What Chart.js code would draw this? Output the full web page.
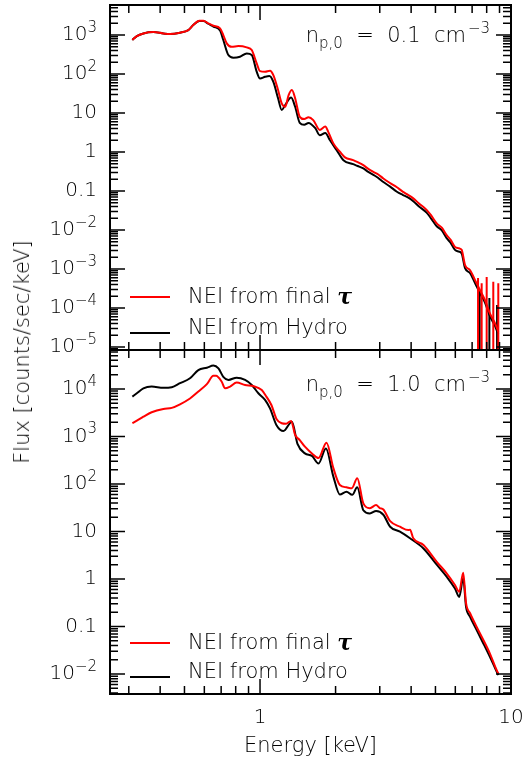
<!DOCTYPE html>
<html lang="en">
<head>
<meta charset="UTF-8">
<title>NEI spectra</title>
<script src="https://cdn.jsdelivr.net/npm/chart.js@4"></script>
<style>
    body{margin:0;background:#fff;width:522px;height:766px;position:relative;overflow:hidden;font-family:'DejaVu Sans',sans-serif}
    #topChart{position:absolute;left:0;top:0;width:522px;height:362px}
    #botChart{position:absolute;left:0;top:350px;width:522px;height:416px}
    .ylab{position:absolute;left:22px;top:352px;transform:translate(-50%,-50%) rotate(-90deg);white-space:nowrap;font-size:21px;font-weight:200;color:#000}
</style>
</head>
<body>
<canvas id="topChart" width="522" height="362"></canvas>
<canvas id="botChart" width="522" height="416"></canvas>
<div class="ylab">Flux [counts/sec/keV]</div>
<script>
// axis ticks ("^" marks the exponent part of a label)
const xTicks = [1, 10];
const xTickLabels = ['1', '10'];
const topYTicks = [1e-5, 1e-4, 1e-3, 1e-2, 0.1, 1, 10, 1e2, 1e3];
const topYLabels = ['10^−5', '10^−4', '10^−3', '10^−2', '0.1', '1', '10', '10^2', '10^3'];
const botYTicks = [1e-2, 0.1, 1, 10, 1e2, 1e3, 1e4];
const botYLabels = ['10^−2', '0.1', '1', '10', '10^2', '10^3', '10^4'];

// top panel, n = 0.1 cm^-3
const topRedE = [0.31,0.323,0.343,0.376,0.412,0.438,0.48,0.518,0.542,0.573,0.595,0.622,0.652,0.693,0.714,0.737,0.771,0.82,0.885,0.927,0.97,1.0,1.047,1.096,1.13,1.18,1.22,1.26,1.30,1.34,1.38,1.44,1.5,1.56,1.63,1.73,1.82,1.87,1.96,2.08,2.18,2.35,2.45,2.58,2.7,2.83,2.95,3.10,3.3,3.51,3.7,3.90,4.08,4.3,4.61,4.8,5.06,5.3,5.54,5.75,5.98,6.2,6.36,6.56,6.87,7.19,7.52,7.87,8.24,8.63,8.9];
const topRedF = [750,940,1100,1190,1100,1060,1150,1340,1800,2330,2330,2000,1730,1480,1000,612,500,522,483,412,188,119,115,122,94,39,17.8,14.5,29,39,24,8.0,7.0,7.8,6.6,3.7,4.5,3.3,1.67,1.02,0.73,0.62,0.55,0.46,0.37,0.31,0.27,0.21,0.16,0.125,0.097,0.079,0.065,0.048,0.033,0.024,0.0148,0.0115,0.0074,0.0056,0.0037,0.0034,0.0031,0.00126,0.00093,0.00052,0.00029,0.000161,0.000073,0.000041,0.000025];
const topBlackE = [0.31,0.323,0.343,0.376,0.412,0.438,0.48,0.518,0.542,0.573,0.595,0.622,0.652,0.693,0.714,0.748,0.783,0.832,0.885,0.927,0.97,1.0,1.047,1.09,1.13,1.18,1.22,1.26,1.33,1.38,1.44,1.5,1.56,1.66,1.73,1.82,1.90,2.02,2.15,2.35,2.45,2.58,2.7,2.83,2.95,3.10,3.3,3.51,3.7,3.90,4.08,4.3,4.61,4.8,5.06,5.3,5.54,5.75,5.98,6.2,6.36,6.56,6.87,7.19,7.52,7.87,8.24,8.63,8.9];
const topBlackF = [750,940,1100,1190,1100,1060,1150,1340,1800,2300,2300,1950,1650,1300,745,307,263,278,339,307,115,77,85,89,63,24,12,16,25,14.5,5.6,5.0,5.6,4.1,2.7,3.1,2.0,1.12,0.62,0.49,0.44,0.38,0.31,0.26,0.22,0.17,0.13,0.096,0.08,0.068,0.055,0.04,0.028,0.02,0.0125,0.0098,0.0062,0.0047,0.0031,0.0028,0.0025,0.00105,0.00078,0.00044,0.00024,0.00014,0.000062,0.000035,0.000021];
// error bars in the noisy tail (lower ends fall off the axis)
const topRedErrE = [7.39, 7.64, 8.0, 8.5, 8.9];
const topRedErrHi = [5.9e-4, 4.3e-4, 6.3e-4, 4.7e-4, 4.3e-4];
const topBlackErrE = [7.5, 8.2, 8.8];
const topBlackErrHi = [2.6e-4, 1.8e-4, 1.2e-4];
const errFloor = 1e-7;

// bottom panel, n = 1.0 cm^-3
const botRedE = [0.31,0.323,0.343,0.37,0.412,0.445,0.48,0.526,0.568,0.614,0.652,0.668,0.703,0.726,0.76,0.807,0.872,0.94,1.016,1.06,1.11,1.165,1.22,1.27,1.33,1.38,1.44,1.51,1.61,1.71,1.84,1.96,2.08,2.21,2.32,2.44,2.58,2.74,2.90,3.0,3.10,3.30,3.61,3.90,3.96,4.08,4.48,5.06,5.54,5.98,6.22,6.45,6.62,6.87,7.29,7.76,8.24,8.77,8.9];
const botRedF = [1900,2150,2600,3230,3800,4000,4750,6300,8800,12600,19000,19000,14300,10300,11200,13600,12100,11500,9500,6900,4600,2300,1900,1850,2120,1080,840,610,440,350,740,215,95,85,81,132,39,31,36,31,29,16.5,12.6,10.7,10.9,7.2,5.2,2.3,1.32,0.75,0.54,1.36,0.31,0.19,0.099,0.052,0.027,0.012,0.0103];
const botBlackE = [0.31,0.323,0.343,0.37,0.412,0.445,0.48,0.526,0.568,0.614,0.652,0.683,0.714,0.748,0.807,0.872,0.927,0.985,1.047,1.096,1.165,1.24,1.34,1.41,1.51,1.61,1.71,1.83,1.96,2.08,2.21,2.33,2.44,2.58,2.74,2.90,3.10,3.30,3.61,3.96,4.48,5.06,5.54,5.98,6.22,6.45,6.62,6.87,7.29,7.76,8.24,8.9];
const botBlackF = [6900,8100,10300,11200,10600,10900,13200,16800,25000,28000,31000,27000,18000,15500,17300,15500,12100,8100,5900,3900,1700,1300,2050,700,440,390,270,560,143,60,69,59,85,28,24,27,22.5,12.6,9.9,7.2,4.4,2.0,1.12,0.63,0.42,1.04,0.26,0.16,0.085,0.044,0.023,0.0095];

const pts = (E, F) => E.map((e, i) => ({x: e, y: F[i]}));
const errPts = (E, hi) => E.flatMap((e, i) => [{x: e, y: hi[i]}, {x: e, y: errFloor}, {x: e, y: null}]);

const FONT = '"DejaVu Sans", sans-serif';
const W = 200; // light weight, closer to the thin plot lettering

// frame, inward ticks, y labels with raised exponents, legend and density note
const panelPlugin = {
    id: 'panel',
    afterDatasetsDraw(chart, args, o) {
        const {ctx, chartArea: a, scales: {x, y}} = chart;
        ctx.save();
        ctx.strokeStyle = '#000';
        ctx.lineWidth = 1.5;
        ctx.beginPath();
        for (let d = Math.floor(Math.log10(y.min)); d <= Math.ceil(Math.log10(y.max)); d++) {
            for (let m = 1; m < 10; m++) {
                const v = m * Math.pow(10, d);
                if (v < y.min || v > y.max) continue;
                const py = y.getPixelForValue(v), len = m === 1 ? 15 : 8;
                ctx.moveTo(a.left, py); ctx.lineTo(a.left + len, py);
                ctx.moveTo(a.right, py); ctx.lineTo(a.right - len, py);
            }
        }
        for (let d = Math.floor(Math.log10(x.min)); d <= Math.ceil(Math.log10(x.max)); d++) {
            for (let m = 1; m < 10; m++) {
                const v = m * Math.pow(10, d);
                if (v <= x.min || v >= x.max) continue;
                const px = x.getPixelForValue(v), len = m === 1 ? 15 : 8;
                ctx.moveTo(px, a.top); ctx.lineTo(px, a.top + len);
                ctx.moveTo(px, a.bottom); ctx.lineTo(px, a.bottom - len);
            }
        }
        ctx.stroke();
        ctx.lineWidth = 2;
        ctx.strokeRect(a.left, a.top, a.right - a.left, a.bottom - a.top);

        // y tick labels
        const base = W + ' 20px ' + FONT, expo = W + ' 15px ' + FONT;
        ctx.fillStyle = '#000';
        ctx.textAlign = 'left';
        ctx.textBaseline = 'middle';
        y.ticks.forEach((t, i) => {
            const [b, e] = o.yLabels[i].split('^');
            const py = y.getPixelForValue(t.value);
            ctx.font = base; const wb = ctx.measureText(b).width;
            ctx.font = expo; const we = e ? ctx.measureText(e).width : 0;
            const lx = a.left - 13 - wb - we;
            ctx.font = base; ctx.fillText(b, lx, py);
            if (e) { ctx.font = expo; ctx.fillText(e, lx + wb, py - 7); }
        });

        // legend
        o.legend.forEach(it => {
            const ds = chart.data.datasets[it.ds];
            const ly = a.bottom - it.lineDy, ty = a.bottom - it.textDy;
            ctx.strokeStyle = ds.borderColor;
            ctx.lineWidth = 2;
            ctx.beginPath(); ctx.moveTo(a.left + 20, ly); ctx.lineTo(a.left + 60, ly); ctx.stroke();
            let txt = ds.label, tau = false;
            if (txt.endsWith('τ')) { txt = txt.slice(0, -1); tau = true; }
            ctx.font = W + ' 21px ' + FONT;
            ctx.fillText(txt, a.left + 78, ty);
            if (tau) {
                const w = ctx.measureText(txt).width;
                ctx.font = 'italic bold 22px "DejaVu Serif", serif';
                ctx.fillText('τ', a.left + 78 + w, ty);
            }
        });

        // density note
        const n = o.note;
        const big = W + ' 21px ' + FONT, small = W + ' 15px ' + FONT;
        ctx.font = big;
        const w1 = ctx.measureText(n.main).width, w3 = ctx.measureText(n.mid).width;
        ctx.font = small;
        const w2 = ctx.measureText(n.sub).width, w4 = ctx.measureText(n.sup).width;
        let nx = a.right - 21 - (w1 + w2 + w3 + w4 + 2);
        const by = a.top + n.baseDy;
        ctx.textBaseline = 'alphabetic';
        ctx.font = big; ctx.fillText(n.main, nx, by); nx += w1;
        ctx.font = small; ctx.fillText(n.sub, nx, by + 6); nx += w2;
        ctx.font = big; ctx.fillText(n.mid, nx, by); nx += w3 + 2;
        ctx.font = small; ctx.fillText(n.sup, nx, by - 9);
        ctx.restore();
    }
};

function yScale(min, max, ticks) {
    return {
        type: 'logarithmic', min, max,
        afterBuildTicks: s => { s.ticks = ticks.map(v => ({value: v})); },
        afterFit: s => { s.width = 110; s.paddingTop = 0; s.paddingBottom = 0; },
        grid: {display: false, drawTicks: false},
        border: {display: false},
        ticks: {autoSkip: false, callback: () => ''}
    };
}

function lineSet(label, data, color, smooth) {
    const ds = {label, data, borderColor: color, borderWidth: 2, pointRadius: 0, tension: 0, fill: false};
    if (smooth) ds.cubicInterpolationMode = 'monotone';
    return ds;
}

new Chart(document.getElementById('topChart'), {
    type: 'line',
    data: {datasets: [
        lineSet('NEI from final τ', pts(topRedE, topRedF), '#ff0000', true),
        lineSet('', errPts(topRedErrE, topRedErrHi), '#ff0000'),
        lineSet('NEI from Hydro', pts(topBlackE, topBlackF), '#000000', true),
        lineSet('', errPts(topBlackErrE, topBlackErrHi), '#000000')
    ]},
    options: {
        responsive: false, animation: false, devicePixelRatio: 1,
        layout: {padding: {top: 5, right: 11, bottom: 12, left: 0}},
        plugins: {legend: {display: false}, tooltip: {enabled: false},
            panel: {yLabels: topYLabels,
                legend: [{ds: 0, lineDy: 53, textDy: 52}, {ds: 2, lineDy: 17, textDy: 21}],
                note: {main: 'n', sub: 'p,0', mid: '  =  0.1  cm', sup: '−3', baseDy: 37}}},
        scales: {
            x: {type: 'logarithmic', min: 0.2525, max: 10, display: false},
            y: yScale(8.4e-6, 5900, topYTicks)
        }
    },
    plugins: [panelPlugin]
});

new Chart(document.getElementById('botChart'), {
    type: 'line',
    data: {datasets: [
        lineSet('NEI from final τ', pts(botRedE, botRedF), '#ff0000', true),
        lineSet('NEI from Hydro', pts(botBlackE, botBlackF), '#000000', true)
    ]},
    options: {
        responsive: false, animation: false, devicePixelRatio: 1,
        layout: {padding: {top: 0, right: 11, bottom: 0, left: 0}},
        plugins: {legend: {display: false}, tooltip: {enabled: false},
            panel: {yLabels: botYLabels,
                legend: [{ds: 0, lineDy: 51, textDy: 50}, {ds: 1, lineDy: 17, textDy: 21}],
                note: {main: 'n', sub: 'p,0', mid: '  =  1.0  cm', sup: '−3', baseDy: 41}}},
        scales: {
            x: {
                type: 'logarithmic', min: 0.2525, max: 10,
                afterBuildTicks: s => { s.ticks = xTicks.map(v => ({value: v})); },
                afterFit: s => { s.height = 72; s.paddingLeft = 0; s.paddingRight = 0; },
                grid: {display: false, drawTicks: false},
                border: {display: false},
                ticks: {autoSkip: false, maxRotation: 0, padding: 12, color: '#000', font: {family: FONT, size: 20, weight: W},
                    callback: (v, i) => xTickLabels[i]},
                title: {display: true, text: 'Energy [keV]', color: '#000', font: {family: FONT, size: 21, weight: W},
                    padding: {top: 0, bottom: 7}}
            },
            y: yScale(0.0038, 66000, botYTicks)
        }
    },
    plugins: [panelPlugin]
});
</script>
</body>
</html>
